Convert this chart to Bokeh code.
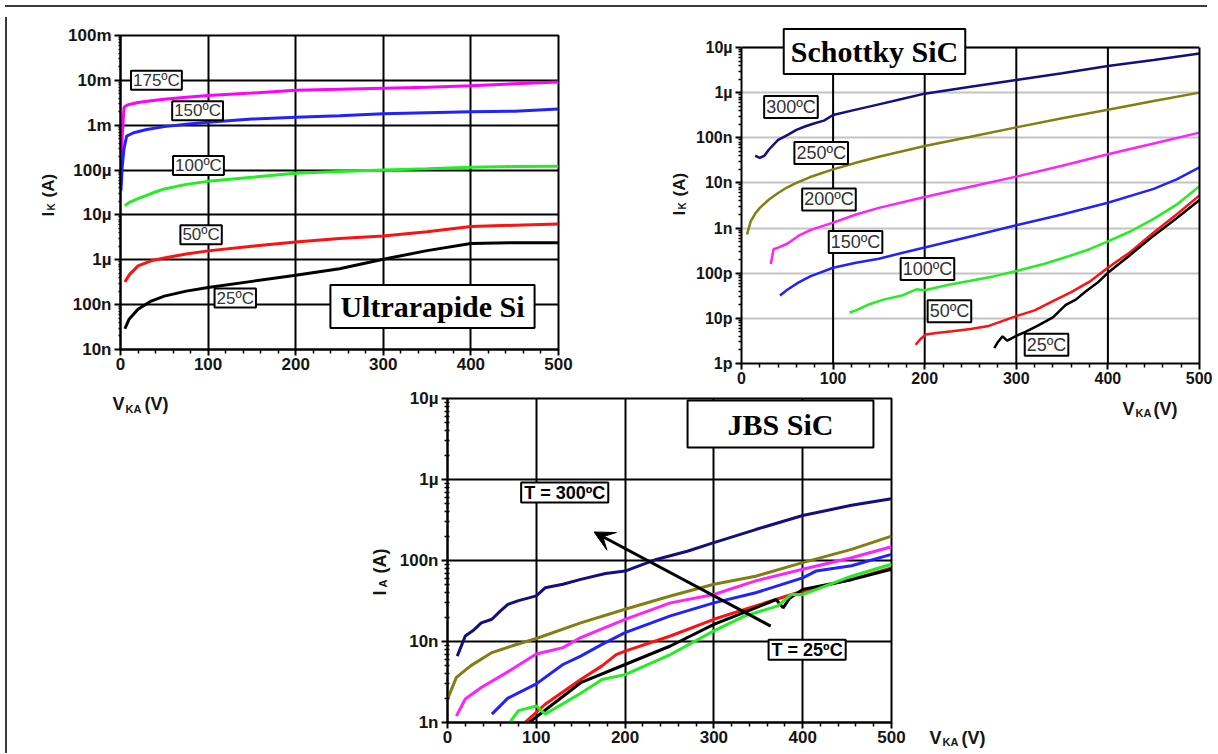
import math
from bokeh.plotting import figure
from bokeh.models import Range1d, FixedTicker, Label, Arrow, VeeHead, Div, Span, LogAxis
from bokeh.layouts import row, column
from bokeh.embed import file_html
from bokeh.resources import INLINE

SANS = "Liberation Sans"
SERIF = "Liberation Serif"

# ---------------- data: Ultrarapide Si ----------------
si_v175 = [0.5, 2, 4, 6, 10, 20, 35, 50, 75, 100, 150, 200, 250, 300, 350, 400, 450, 500]
si_i175 = [1.3e-4, 6e-4, 2.5e-3, 2.7e-3, 2.9e-3, 3.2e-3, 3.5e-3, 3.8e-3, 4.2e-3, 4.6e-3, 5.2e-3, 6.0e-3, 6.3e-3, 6.7e-3, 7.0e-3, 7.6e-3, 8.4e-3, 9.2e-3]
si_v150 = [0.5, 2, 4, 7, 15, 30, 50, 75, 100, 150, 200, 250, 300, 350, 400, 450, 500]
si_i150 = [3.4e-5, 1.2e-4, 3e-4, 5.7e-4, 6.8e-4, 8.0e-4, 9.3e-4, 1.05e-3, 1.17e-3, 1.37e-3, 1.5e-3, 1.63e-3, 1.8e-3, 1.9e-3, 2.0e-3, 2.05e-3, 2.3e-3]
si_v100 = [5, 10, 20, 35, 50, 75, 100, 150, 200, 250, 300, 350, 400, 450, 500]
si_i100 = [1.6e-5, 1.9e-5, 2.3e-5, 3.0e-5, 3.8e-5, 4.8e-5, 5.6e-5, 6.9e-5, 8.5e-5, 9.3e-5, 1.0e-4, 1.07e-4, 1.15e-4, 1.2e-4, 1.22e-4]
si_v50 = [5, 10, 20, 35, 50, 75, 100, 150, 200, 250, 300, 350, 400, 450, 500]
si_i50 = [3.2e-7, 4.6e-7, 7.3e-7, 9.5e-7, 1.1e-6, 1.35e-6, 1.58e-6, 2.0e-6, 2.5e-6, 3.0e-6, 3.4e-6, 4.2e-6, 5.5e-6, 5.9e-6, 6.3e-6]
si_v25 = [5, 10, 20, 35, 50, 75, 100, 150, 200, 250, 300, 350, 400, 450, 500]
si_i25 = [2.9e-8, 4.8e-8, 7.9e-8, 1.2e-7, 1.55e-7, 2.0e-7, 2.4e-7, 3.3e-7, 4.5e-7, 6.3e-7, 1.03e-6, 1.6e-6, 2.3e-6, 2.4e-6, 2.4e-6]
si_tag_text = ["175ºC", "150ºC", "100ºC", "50ºC", "25ºC"]
si_tag_v = [41, 88, 89, 92, 131]
si_tag_i = [1.0e-2, 2.1e-3, 1.26e-4, 3.6e-6, 1.4e-7]

# ---------------- data: Schottky SiC ----------------
sch_v300 = [15, 20, 25, 30, 40, 50, 60, 70, 80, 90, 100, 125, 150, 175, 200, 250, 300, 350, 400, 450, 500]
sch_i300 = [4.0e-8, 3.6e-8, 4.0e-8, 5.5e-8, 9.0e-8, 1.15e-7, 1.5e-7, 1.8e-7, 2.1e-7, 2.4e-7, 3.2e-7, 4.2e-7, 5.5e-7, 7.2e-7, 9.5e-7, 1.35e-6, 1.9e-6, 2.7e-6, 3.9e-6, 5.3e-6, 7.4e-6]
sch_v250 = [6, 10, 15, 20, 30, 40, 50, 60, 75, 100, 125, 150, 200, 250, 300, 350, 400, 450, 500]
sch_i250 = [7.2e-10, 1.4e-9, 2.1e-9, 2.8e-9, 4.3e-9, 6.0e-9, 8.0e-9, 1.0e-8, 1.35e-8, 2.0e-8, 2.8e-8, 3.8e-8, 6.6e-8, 1.05e-7, 1.7e-7, 2.7e-7, 4.2e-7, 6.5e-7, 1.0e-6]
sch_v200 = [32, 35, 40, 50, 62, 75, 100, 125, 150, 200, 250, 300, 350, 400, 450, 500]
sch_i200 = [1.6e-10, 3.4e-10, 3.7e-10, 4.5e-10, 6.7e-10, 9.0e-10, 1.32e-9, 2.0e-9, 2.8e-9, 4.9e-9, 8.2e-9, 1.38e-8, 2.4e-8, 4.3e-8, 7.5e-8, 1.3e-7]
sch_v150 = [42, 50, 62, 75, 100, 125, 150, 175, 200, 250, 300, 350, 400, 450, 475, 500]
sch_i150 = [3.2e-11, 4.3e-11, 6.2e-11, 8.5e-11, 1.32e-10, 1.7e-10, 2.1e-10, 2.8e-10, 3.7e-10, 6.5e-10, 1.15e-9, 2.0e-9, 3.65e-9, 7.4e-9, 1.2e-8, 2.2e-8]
sch_v100 = [118, 125, 138, 155, 175, 191, 200, 225, 250, 275, 300, 330, 358, 380, 400, 425, 450, 475, 500]
sch_i100 = [1.35e-11, 1.5e-11, 2.0e-11, 2.6e-11, 3.2e-11, 4.4e-11, 4.2e-11, 5.5e-11, 6.8e-11, 8.5e-11, 1.12e-10, 1.6e-10, 2.4e-10, 3.4e-10, 5.1e-10, 8.5e-10, 1.6e-9, 3.3e-9, 8.5e-9]
sch_v50 = [190, 195, 201, 215, 230, 250, 270, 300, 320, 340, 360, 380, 400, 425, 450, 475, 500]
sch_i50 = [2.6e-12, 3.4e-12, 4.4e-12, 4.8e-12, 5.2e-12, 5.8e-12, 6.8e-12, 1.12e-11, 1.5e-11, 2.4e-11, 3.8e-11, 6.5e-11, 1.32e-10, 3.0e-10, 8.0e-10, 2.0e-9, 5.3e-9]
sch_v25 = [276, 280, 285, 290, 300, 310, 323, 340, 354, 365, 376, 390, 400, 425, 450, 475, 500]
sch_i25 = [2.2e-12, 3.0e-12, 4.0e-12, 3.2e-12, 4.1e-12, 5.0e-12, 6.8e-12, 1.05e-11, 2.0e-11, 2.6e-11, 4.0e-11, 6.5e-11, 1.02e-10, 2.6e-10, 6.8e-10, 1.65e-9, 4.2e-9]
sch_tag_text = ["300ºC", "250ºC", "200ºC", "150ºC", "100ºC", "50ºC", "25ºC"]
sch_tag_v = [54, 87, 95.5, 124.5, 203, 227, 333]
sch_tag_i = [4.8e-7, 4.6e-8, 4.3e-9, 4.9e-10, 1.24e-10, 1.44e-11, 2.6e-12]

# ---------------- data: JBS SiC ----------------
jbs_v300 = [11, 20, 30, 38, 50, 60, 68, 80, 100, 110, 130, 150, 178, 200, 235, 270, 300, 347, 400, 455, 500]
jbs_i300 = [6.6e-9, 1.17e-8, 1.4e-8, 1.7e-8, 1.88e-8, 2.4e-8, 2.87e-8, 3.2e-8, 3.66e-8, 4.6e-8, 5.1e-8, 5.85e-8, 6.9e-8, 7.4e-8, 1.03e-7, 1.3e-7, 1.66e-7, 2.41e-7, 3.6e-7, 4.8e-7, 5.8e-7]
jbs_v250 = [0, 10, 26, 50, 75, 100, 150, 200, 251, 300, 347, 400, 455, 500]
jbs_i250 = [1.94e-9, 3.6e-9, 5.0e-9, 7.3e-9, 9.0e-9, 1.09e-8, 1.7e-8, 2.5e-8, 3.65e-8, 5.1e-8, 6.4e-8, 9.4e-8, 1.37e-7, 2.0e-7]
jbs_v200 = [10, 20, 38, 66, 100, 130, 150, 200, 251, 300, 347, 400, 455, 500]
jbs_i200 = [1.2e-9, 1.95e-9, 2.7e-9, 4.1e-9, 7.0e-9, 8.4e-9, 1.12e-8, 1.88e-8, 3.0e-8, 3.8e-8, 5.6e-8, 7.8e-8, 1.08e-7, 1.48e-7]
jbs_v150 = [50, 68, 100, 130, 150, 174, 200, 251, 300, 347, 400, 415, 455, 500]
jbs_i150 = [1.27e-9, 2.0e-9, 3.0e-9, 5.2e-9, 6.6e-9, 9.2e-9, 1.29e-8, 2.07e-8, 3.0e-8, 4.0e-8, 6.1e-8, 7.4e-8, 8.6e-8, 1.19e-7]
jbs_v100 = [70, 80, 100, 110, 150, 174, 200, 251, 300, 335, 372, 387, 400, 455, 500]
jbs_i100 = [1.0e-9, 1.4e-9, 1.6e-9, 1.27e-9, 2.3e-9, 3.4e-9, 3.9e-9, 6.9e-9, 1.35e-8, 2.07e-8, 2.75e-8, 3.8e-8, 3.8e-8, 6.4e-8, 9.0e-8]
jbs_v50 = [88, 110, 150, 174, 190, 200, 251, 300, 347, 400, 455, 500]
jbs_i50 = [1.02e-9, 1.68e-9, 3.4e-9, 5.0e-9, 6.9e-9, 7.6e-9, 1.17e-8, 1.88e-8, 2.75e-8, 4.2e-8, 5.85e-8, 8.1e-8]
jbs_v25 = [92, 150, 200, 251, 300, 347, 370, 378, 385, 400, 455, 500]
jbs_i25 = [1.0e-9, 3.1e-9, 5.2e-9, 8.8e-9, 1.63e-8, 2.6e-8, 3.3e-8, 2.6e-8, 3.4e-8, 4.4e-8, 5.8e-8, 7.8e-8]
jbs_tag_text = ["T = 300ºC", "T = 25ºC"]
jbs_tag_v = [132, 405]
jbs_tag_i = [6.9e-7, 7.9e-9]
jbs_arrow_v = [364, 165]
jbs_arrow_i = [1.55e-8, 2.25e-7]

# ---------------- ticks ----------------
x_ticks = [0, 100, 200, 300, 400, 500]
x_minor = [v for v in range(0, 501, 20) if v % 100]
si_ticks = [1e-8, 1e-7, 1e-6, 1e-5, 1e-4, 1e-3, 1e-2, 1e-1]
si_labels = ["10n", "100n", "1µ", "10µ", "100µ", "1m", "10m", "100m"]
sch_ticks = [1e-12, 1e-11, 1e-10, 1e-9, 1e-8, 1e-7, 1e-6, 1e-5]
sch_labels = ["1p", "10p", "100p", "1n", "10n", "100n", "1µ", "10µ"]
jbs_ticks = [1e-9, 1e-8, 1e-7, 1e-6, 1e-5]
jbs_labels = ["1n", "10n", "100n", "1µ", "10µ"]


def log_minor(ticks):
    return [m * t for t in ticks[:-1] for m in range(2, 10)]


class Frame:
    """page-pixel frame of a chart (left, top, width, height) and its log10 y span"""
    def __init__(self, left, top, w, h, lo, hi):
        self.left, self.top, self.w, self.h, self.lo, self.hi = left, top, w, h, lo, hi

    def x(self, px):
        return (px - self.left) / self.w * 500.0

    def y(self, py):
        return 10 ** (self.lo + (self.top + self.h - py) / self.h * (self.hi - self.lo))


def make_chart(width, height, x0, y0, fr, yticks, ylabels, fs, ygrid_color,
               y_minor_in, y_minor_out):
    p = figure(width=width, height=height, x_range=Range1d(0, 500),
               y_range=Range1d(10 ** fr.lo, 10 ** fr.hi), y_axis_type="log",
               output_backend="svg", toolbar_location=None, title=None,
               min_border_left=fr.left - x0, min_border_top=fr.top - y0,
               min_border_right=x0 + width - fr.left - fr.w,
               min_border_bottom=y0 + height - fr.top - fr.h)
    p.frame_align = False
    p.background_fill_color = "white"
    p.border_fill_color = "white"
    p.outline_line_color = "black"
    p.outline_line_width = 2
    p.xaxis.ticker = FixedTicker(ticks=x_ticks, minor_ticks=x_minor)
    p.yaxis.ticker = FixedTicker(ticks=yticks, minor_ticks=log_minor(yticks))
    p.yaxis.major_label_overrides = {t: l for t, l in zip(yticks, ylabels)}
    for ax in (p.xaxis, p.yaxis):
        ax.axis_line_color = "black"
        ax.axis_line_width = 2
        ax.major_tick_line_color = "black"
        ax.major_tick_line_width = 2
        ax.minor_tick_line_color = "black"
        ax.minor_tick_line_width = 1.5
        ax.major_tick_in = 0
        ax.major_tick_out = 6
        ax.major_label_text_font = SANS
        ax.major_label_text_font_style = "bold"
        ax.major_label_text_font_size = f"{fs}px"
        ax.major_label_text_color = "#151515"
    p.xaxis.minor_tick_in = 0
    p.xaxis.minor_tick_out = 4
    p.yaxis.minor_tick_in = y_minor_in
    p.yaxis.minor_tick_out = y_minor_out
    p.xaxis.major_label_standoff = 2
    p.yaxis.major_label_standoff = 3
    p.xgrid.ticker = FixedTicker(ticks=x_ticks)
    p.ygrid.ticker = FixedTicker(ticks=yticks)
    p.xgrid.grid_line_color = "black"
    p.xgrid.grid_line_width = 2
    p.ygrid.grid_line_color = ygrid_color
    p.ygrid.grid_line_width = 2
    return p


def blank(width, height, x0, y0):
    """empty panel whose data coordinates are page pixels (for out-of-frame texts)"""
    p = figure(width=width, height=height, x_range=Range1d(x0, x0 + width),
               y_range=Range1d(y0 + height, y0), output_backend="svg",
               toolbar_location=None, title=None, min_border=0,
               x_axis_type=None, y_axis_type=None)
    p.frame_align = False
    p.outline_line_color = None
    p.background_fill_color = "white"
    p.border_fill_color = "white"
    return p


def text(p, x, y, s, size, bold=True, angle=0.0, font=SANS, color="#151515"):
    p.add_layout(Label(x=x, y=y, text=s, text_font=font, text_font_size=f"{size}px",
                       text_font_style="bold" if bold else "normal", angle=angle,
                       text_align="left", text_baseline="alphabetic", text_color=color))


def tag(p, x, y, s, size, bold, pad_x=3, pad_y=0, font=SANS, color="#333333"):
    p.add_layout(Label(x=x, y=y, text=s, text_font=font, text_font_size=f"{size}px",
                       text_font_style="bold" if bold else "normal",
                       text_align="center", text_baseline="middle", text_color=color,
                       background_fill_color="white", border_line_color="black",
                       border_line_width=2,
                       padding=dict(left=pad_x, right=pad_x, top=pad_y, bottom=pad_y)))


R90 = math.pi / 2

# ---------------- chart 1: Ultrarapide Si ----------------
fr1 = Frame(118, 33, 438, 314, -8, -1)
p1 = make_chart(584, 375, 56, 10, fr1, si_ticks, si_labels, 17, "black", 0, 2)
for v, i, c in [(si_v175, si_i175, "#ff00ff"), (si_v150, si_i150, "#2222ff"),
                (si_v100, si_i100, "#22ee22"), (si_v50, si_i50, "#ff1111"),
                (si_v25, si_i25, "black")]:
    p1.line(v, i, line_color=c, line_width=3)
for s, v, i in zip(si_tag_text, si_tag_v, si_tag_i):
    tag(p1, v, i, s, 17, False, pad_x=2)
tag(p1, fr1.x(430), fr1.y(304), "Ultrarapide Si", 30, True, pad_x=10, pad_y=5,
    font=SERIF, color="black")

# ---------------- chart 2: Schottky SiC (frame extended above 10µ for the title box) ----
fr2 = Frame(739, 25, 458, 336, -12, -5 + 20 * 7 / 316)
p2 = make_chart(522, 375, 688, 10, fr2, sch_ticks, sch_labels, 16, "#c4c4c4", 0, 3)
p2.outline_line_color = None
p2.xgrid.visible = False
p2.yaxis.bounds = (sch_ticks[0], sch_ticks[-1])
p2.segment(x0=x_ticks[1:-1], y0=[sch_ticks[0]] * 4, x1=x_ticks[1:-1],
           y1=[sch_ticks[-1]] * 4, line_color="black", line_width=2)
p2.add_layout(Span(location=sch_ticks[-1], dimension="width",
                   line_color="black", line_width=2))
p2.add_layout(LogAxis(bounds=(sch_ticks[0], sch_ticks[-1]), ticker=FixedTicker(ticks=[]),
                      axis_line_width=2, axis_line_color="black", major_tick_out=0,
                      major_tick_in=0, minor_tick_out=0, minor_tick_in=0,
                      major_label_standoff=0), "right")
for v, i, c in [(sch_v300, sch_i300, "#101080"), (sch_v250, sch_i250, "#808010"),
                (sch_v200, sch_i200, "#ff22ff"), (sch_v150, sch_i150, "#2222ff"),
                (sch_v100, sch_i100, "#22ee22"), (sch_v50, sch_i50, "#ff1111"),
                (sch_v25, sch_i25, "black")]:
    p2.line(v, i, line_color=c, line_width=2.5)
for s, v, i in zip(sch_tag_text, sch_tag_v, sch_tag_i):
    tag(p2, v, i, s, 18, False, pad_x=2, pad_y=1)
tag(p2, fr2.x(872), fr2.y(49), "Schottky SiC", 30, True, pad_x=7, pad_y=6,
    font=SERIF, color="black")

# ---------------- chart 3: JBS SiC ----------------
fr3 = Frame(445, 396, 444, 324, -9, -5)
p3 = make_chart(513, 361, 392, 385, fr3, jbs_ticks, jbs_labels, 17, "black", 2, 3)
for v, i, c in [(jbs_v300, jbs_i300, "#101080"), (jbs_v250, jbs_i250, "#808010"),
                (jbs_v200, jbs_i200, "#ff22ff"), (jbs_v150, jbs_i150, "#2222ff"),
                (jbs_v50, jbs_i50, "#ff1111"), (jbs_v25, jbs_i25, "black"),
                (jbs_v100, jbs_i100, "#22ee22")]:
    p3.line(v, i, line_color=c, line_width=3)
p3.add_layout(Arrow(x_start=jbs_arrow_v[0], y_start=jbs_arrow_i[0],
                    x_end=jbs_arrow_v[1], y_end=jbs_arrow_i[1],
                    line_color="black", line_width=3,
                    end=VeeHead(size=20, fill_color="black", line_color="black")))
for s, v, i in zip(jbs_tag_text, jbs_tag_v, jbs_tag_i):
    tag(p3, v, i, s, 18, True, pad_x=3, pad_y=0, color="black")
tag(p3, fr3.x(778), fr3.y(421.5), "JBS SiC", 30, True, pad_x=40, pad_y=7,
    font=SERIF, color="black")

# ---------------- panels holding the axis titles (page-pixel coordinates) ----------------
pY1 = blank(46, 375, 10, 10)
text(pY1, 46, 214, "I", 17, angle=R90)
text(pY1, 49, 208, "K", 10, angle=R90)
text(pY1, 46, 195, "(A)", 17, angle=R90)

pY2 = blank(48, 375, 640, 10)
text(pY2, 677, 213, "I", 17, angle=R90)
text(pY2, 680, 207, "K", 10, angle=R90)
text(pY2, 677, 194, "(A)", 17, angle=R90)

pL = blank(382, 361, 10, 385)
text(pL, 110, 401, "V", 18)
text(pL, 123, 406, "KA", 11)
text(pL, 142, 401, "(V)", 18)
text(pL, 377, 593, "I", 18, angle=R90)
text(pL, 380, 585, "A", 11, angle=R90)
text(pL, 377, 571, "(A)", 18, angle=R90)

pR = blank(305, 361, 905, 385)
text(pR, 1120, 406, "V", 18)
text(pR, 1133, 410, "KA", 11)
text(pR, 1151, 406, "(V)", 18)
text(pR, 927, 735, "V", 18)
text(pR, 940, 739, "KA", 11)
text(pR, 959, 735, "(V)", 18)

top_border = Div(width=1202, height=2, styles={"background-color": "#3a3a3a"})
left_border = Div(width=2, height=736, styles={"background-color": "#3a3a3a"})

layout = column(top_border,
                row(left_border,
                    column(row(pY1, p1, pY2, p2), row(pL, p3, pR))))

open("out.html", "w").write(file_html(layout, INLINE))
